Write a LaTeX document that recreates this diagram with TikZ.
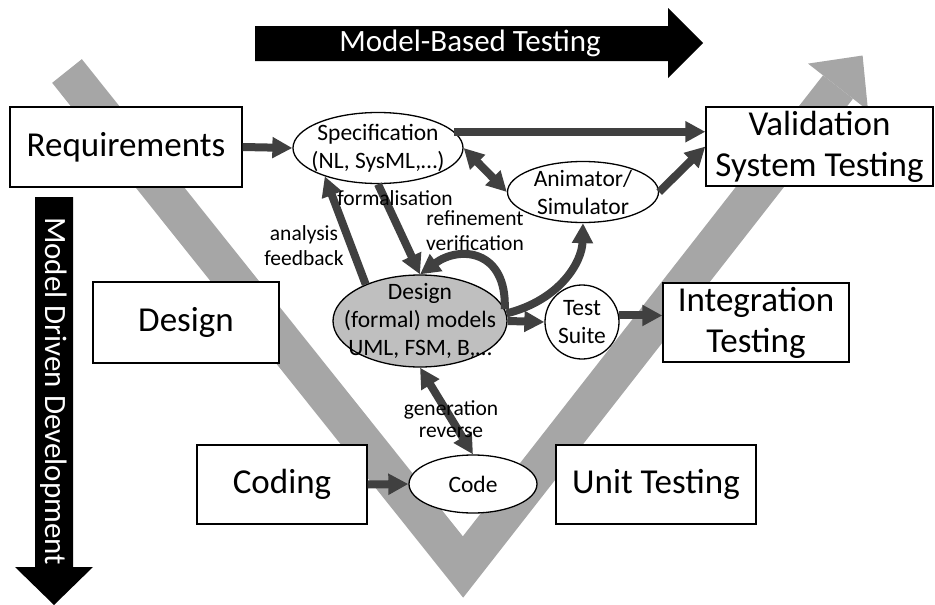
\documentclass[tikz,border=0pt]{standalone}
\usepackage{fontspec}
\setmainfont{Carlito}
\usetikzlibrary{arrows.meta, shapes.geometric}

\begin{document}
\begin{tikzpicture}[x=1pt, y=-1pt, >={Triangle[length=20pt,width=20pt]},
		stage/.style={draw, line width=1.3pt, fill=white, inner sep=0pt,
			font=\fontsize{35}{41}\selectfont, align=center},
		artefact/.style={ellipse, draw, line width=1.3pt, fill=white, inner sep=-30pt,
			font=\fontsize{23.5}{28}\selectfont, align=center},
		banner/.style={text=white, font=\fontsize{31}{36}\selectfont},
		flow/.style={draw=black!75, line width=8pt},
		lbl/.style={font=\fontsize{21.5}{25}\selectfont, align=center}]
		\useasboundingbox (0,0) rectangle (935,605);

		% the V
		\draw[black!35, line width=38pt, line join=miter] (67,71) -- (463,567) -- (838,87);
		\fill[black!35] (808,63.6) -- (862.6,55.5) -- (868,110.4) -- cycle;

		% the two big arrows
		\fill (255,26) -- (668,26) -- (668,8) -- (703,43) -- (668,78) -- (668,61) -- (255,61) -- cycle;
		\node[banner] (mbt) at (470,43) {Model-Based Testing};
		\fill (35,197) -- (73,197) -- (73,567) -- (93,567) -- (54,605) -- (15,567) -- (35,567) -- cycle;
		\node[banner, rotate=-90] (mdd) at (54,391) {Model Driven Development};

		% stages
		\node[stage, minimum width=232pt, minimum height=80pt] at (126,147) (req) {Requirements};
		\node[stage, minimum width=186pt, minimum height=81pt] at (186,322.5) (dsg) {Design};
		\node[stage, minimum width=170pt, minimum height=79pt] at (282,484.5) (cod) {Coding};
		\node[stage, minimum width=200pt, minimum height=79pt] at (656,484.5) (unit) {Unit Testing};
		\node[stage, minimum width=186pt, minimum height=79pt] at (756,322.5) (integ) {Integration\\Testing};
		\node[stage, minimum width=227pt, minimum height=79pt] at (819.5,146.5) (valid) {Validation\\System Testing};

		% artefacts
		\node[artefact, minimum width=170pt, minimum height=71pt] at (378,148) (spec) {Specification\\(NL, SysML,…)};
		\node[artefact, minimum width=151pt, minimum height=61pt] at (583,192) (anim) {Animator/\\Simulator};
		\node[artefact, fill=black!25, minimum width=174pt, minimum height=92pt] at (420,321) (model) {Design\\(formal) models\\UML, FSM, B,…};
		\node[artefact, circle, minimum size=74pt] at (582,322) (suite) {Test\\Suite};
		\node[artefact, minimum width=128pt, minimum height=58pt] at (473,484) (code) {Code};

		\draw[flow, ->] (req.east) -- (spec.west);
		\draw[flow, ->] (spec.12) -- (spec.12 -| valid.west);
		\draw[flow, <->] (spec.east) -- (anim.west);
		\draw[flow, ->] (anim.east) -- (valid.west);
		\draw[flow, ->] (model.146) -- (spec.208);
		\draw[flow, ->] (spec.south) -- (model.north);
		\draw[flow, ->] (model.8) .. controls (507,250) and (460,245) .. (model.north);
		\draw[flow, ->] (model.5) .. controls (560,300) and (582,262) .. (anim.south);
		\draw[flow, ->] (model.east) -- (suite.west);
		\draw[flow, ->] (suite.10) -- (suite.10 -| integ.west);
		\draw[flow, <->] (model.south) -- (code.north);
		\draw[flow, ->] (cod.east) -- (code.west);

		\node[lbl] at (304,246) (fb) {analysis\\feedback};
		\node[lbl] at (395,198) (frm) {formalisation};
		\node[lbl] at (475,231) (rv) {refinement\\verification};
		\node[lbl, font=\fontsize{21.5}{22}\selectfont] at (451,419) (gr) {generation\\reverse};
	\end{tikzpicture}
\end{document}
